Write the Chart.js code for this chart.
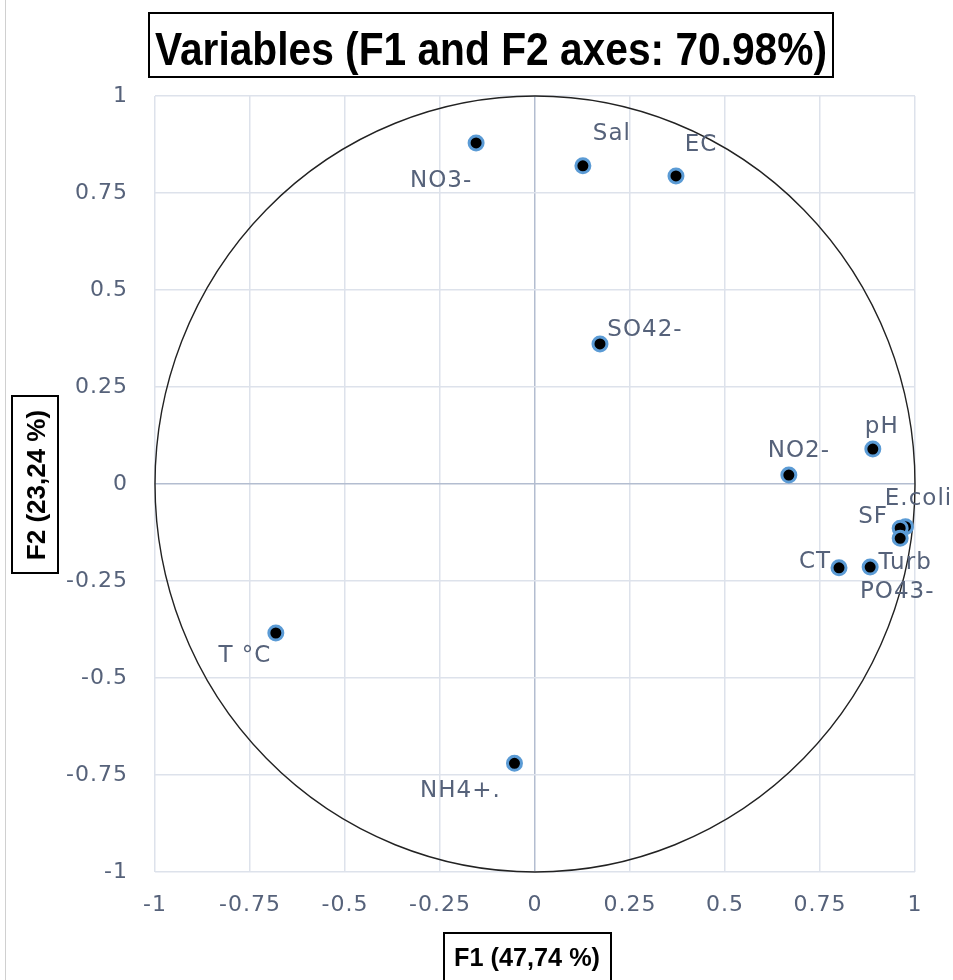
<!DOCTYPE html>
<html>
<head>
<meta charset="utf-8">
<script src="https://cdn.jsdelivr.net/npm/chart.js@4/dist/chart.umd.min.js"></script>
<style>
  html, body { margin: 0; padding: 0; background: #fff; }
  canvas { display: block; }
</style>
</head>
<body>
<canvas id="mainGraph" width="953" height="980"></canvas>
<script>
// variables on the correlation circle
var names = ['NO3-', 'Sal', 'EC', 'SO42-', 'NO2-', 'pH', 'E.coli', 'SF', 'CT', 'Turb', 'PO43-', 'T °C', 'NH4+.'];
var f1 = [-0.155, 0.126, 0.371, 0.171, 0.668, 0.889, 0.975, 0.961, 0.800, 0.882, 0.961, -0.682, -0.054];
var f2 = [0.879, 0.820, 0.794, 0.361, 0.023, 0.090, -0.110, -0.114, -0.216, -0.214, -0.140, -0.384, -0.720];
var tickValues = [-1, -0.75, -0.5, -0.25, 0, 0.25, 0.5, 0.75, 1];

var titleText = 'Variables (F1 and F2 axes: 70.98%)';
var xTitle = 'F1 (47,74 %)';
var yTitle = 'F2 (23,24 %)';

// label offsets from each point (pixels), as placed in the original
var labelOffset = {
    'NO3-': [-35, 38], 'Sal': [29, -32], 'EC': [25, -31], 'SO42-': [45, -14],
    'NO2-': [10, -24], 'pH': [9, -22], 'E.coli': [13, -28], 'SF': [-27, -11],
    'CT': [-24, -6], 'Turb': [35, -4], 'PO43-': [-3, 54], 'T °C': [-31, 23], 'NH4+.': [-54, 28]
};

var textColor = '#56627a';
var tickFont = { family: '"DejaVu Sans", sans-serif', size: 22 };
var boldFamily = '"Liberation Sans", Arial, sans-serif';

// bold text squeezed horizontally to a given width (narrow, Calibri-like)
function drawCondensed(ctx, text, x, y, size, width) {
    ctx.save();
    ctx.font = 'bold ' + size + 'px ' + boldFamily;
    var w = ctx.measureText(text).width;
    var k = Math.min(1, width / w);
    ctx.translate(x, y);
    ctx.scale(k, 1);
    ctx.textAlign = 'center';
    ctx.textBaseline = 'alphabetic';
    ctx.fillText(text, 0, 0);
    ctx.restore();
}

var gridColor = function (c) {
    return c.tick && c.tick.value === 0 ? '#b3bdd0' : '#dde2eb';
};

var spacingPlugin = {
    id: 'spacing',
    beforeInit: function (chart) { chart.ctx.letterSpacing = '1px'; },
    beforeDraw: function (chart) { chart.ctx.letterSpacing = '1px'; }
};

var circlePlugin = {
    id: 'circle',
    beforeDatasetsDraw: function (chart) {
        var ctx = chart.ctx, sx = chart.scales.x, sy = chart.scales.y;
        var cx = sx.getPixelForValue(0), cy = sy.getPixelForValue(0);
        var rx = sx.getPixelForValue(1) - cx, ry = cy - sy.getPixelForValue(1);
        ctx.save();
        ctx.strokeStyle = '#222';
        ctx.lineWidth = 1.4;
        ctx.beginPath();
        ctx.ellipse(cx, cy, rx, ry, 0, 0, Math.PI * 2);
        ctx.stroke();
        ctx.restore();
    }
};

var labelPlugin = {
    id: 'pointLabels',
    afterDatasetsDraw: function (chart) {
        var ctx = chart.ctx, meta = chart.getDatasetMeta(0);
        ctx.save();
        ctx.font = '23px ' + tickFont.family;
        ctx.fillStyle = textColor;
        ctx.textAlign = 'center';
        ctx.textBaseline = 'middle';
        meta.data.forEach(function (pt, i) {
            var off = labelOffset[names[i]] || [0, -20];
            ctx.fillText(names[i], pt.x + off[0], pt.y + off[1]);
        });
        ctx.restore();
    }
};

var boxesPlugin = {
    id: 'boxes',
    afterDraw: function (chart) {
        var ctx = chart.ctx;
        ctx.save();
        ctx.letterSpacing = '0px';
        // left edge line
        ctx.strokeStyle = '#d0d0d0';
        ctx.lineWidth = 1;
        ctx.beginPath();
        ctx.moveTo(5.5, 0);
        ctx.lineTo(5.5, 980);
        ctx.stroke();

        ctx.strokeStyle = '#000';
        ctx.lineWidth = 2;

        // main title
        ctx.fillStyle = '#fff';
        ctx.fillRect(149, 13, 684, 64);
        ctx.strokeRect(149, 13, 684, 64);
        ctx.fillStyle = '#000';
        drawCondensed(ctx, titleText, 491, 65, 47, 672);

        // x axis title
        ctx.strokeRect(444, 933, 167, 52);
        drawCondensed(ctx, xTitle, 527, 966, 26, 146);

        // y axis title
        ctx.strokeRect(12, 396, 46, 177);
        ctx.translate(45, 485);
        ctx.rotate(-Math.PI / 2);
        drawCondensed(ctx, yTitle, 0, 0, 26, 158);
        ctx.restore();
    }
};

var points = [];
for (var i = 0; i < names.length; i++) {
    points.push({ x: f1[i], y: f2[i] });
}

var setTicks = function (scale) {
    scale.ticks = tickValues.map(function (v) { return { value: v }; });
};
var tickLabel = function (v) { return String(v); };

var ctx = document.getElementById('mainGraph').getContext('2d');
var chart = new Chart(ctx, {
    type: 'scatter',
    data: {
        datasets: [{
            label: 'Variables',
            data: points,
            backgroundColor: '#000',
            borderColor: '#5b9bd5',
            pointRadius: 7,
            borderWidth: 3,
            pointBorderWidth: 3,
            pointHoverRadius: 7
        }]
    },
    options: {
        responsive: false,
        devicePixelRatio: 1,
        animation: false,
        layout: { padding: { top: 96, right: 38, bottom: 0, left: 0 } },
        plugins: {
            legend: { display: false },
            tooltip: { enabled: false }
        },
        scales: {
            x: {
                type: 'linear',
                min: -1,
                max: 1,
                afterBuildTicks: setTicks,
                afterFit: function (s) { s.height = 108; },
                grid: { color: gridColor, lineWidth: 1.5, drawTicks: false },
                border: { display: false },
                ticks: { color: textColor, font: tickFont, padding: 20, maxRotation: 0, callback: tickLabel }
            },
            y: {
                type: 'linear',
                min: -1,
                max: 1,
                afterBuildTicks: setTicks,
                afterFit: function (s) { s.width = 155; },
                grid: { color: gridColor, lineWidth: 1.5, drawTicks: false },
                border: { display: false },
                ticks: { color: textColor, font: tickFont, padding: 27, callback: tickLabel }
            }
        }
    },
    plugins: [spacingPlugin, circlePlugin, labelPlugin, boxesPlugin]
});
</script>
</body>
</html>
